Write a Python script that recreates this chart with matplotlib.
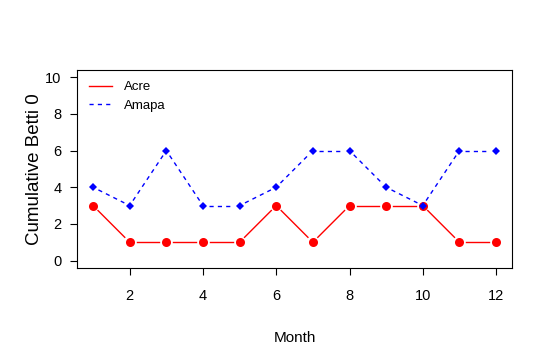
import numpy as np
import matplotlib
matplotlib.use("Agg")
import matplotlib.pyplot as plt

plt.rcParams['font.family'] = ['Liberation Sans', 'DejaVu Sans']

months = list(range(1, 13))
acre = [3, 1, 1, 1, 1, 3, 1, 3, 3, 3, 1, 1]
amapa = [4, 3, 6, 3, 3, 4, 6, 6, 4, 3, 6, 6]

fig = plt.figure(figsize=(5.38, 3.53), dpi=100)
ax = fig.add_axes([0.143, 0.241, 0.809, 0.561])
ax.set_xlim(0.56, 12.44)
ax.set_ylim(-0.4, 10.4)


def gapped(ax, x, y, gap_px, **kw):
    # R type="b": segments stop short of each point
    fig.canvas.draw()
    pts = ax.transData.transform(np.column_stack([x, y]))
    inv = ax.transData.inverted()
    for p0, p1 in zip(pts[:-1], pts[1:]):
        d = p1 - p0
        L = np.hypot(*d)
        if L <= 2 * gap_px:
            continue
        u = d / L
        a = inv.transform(p0 + u * gap_px)
        b = inv.transform(p1 - u * gap_px)
        ax.plot([a[0], b[0]], [a[1], b[1]], **kw)


gapped(ax, months, acre, 7, color='red', lw=1)
gapped(ax, months, amapa, 6, color='blue', lw=1, linestyle=(0, (3, 3)))
ax.plot(months, acre, 'o', color='red', markersize=6.5, markeredgewidth=0)
ax.plot(months, amapa, 'D', color='blue', markersize=4.2, markeredgewidth=0)

ax.plot([], [], color='red', lw=1, label='Acre')
ax.plot([], [], color='blue', lw=1, linestyle=(0, (3, 3)), label='Amapa')
ax.legend(loc='upper left', frameon=False, fontsize=9.5, handlelength=1.8,
          handletextpad=0.9, borderaxespad=0.0, labelspacing=0.45,
          bbox_to_anchor=(0.015, 0.97))

ax.set_xticks([2, 4, 6, 8, 10, 12])
ax.set_yticks([0, 2, 4, 6, 8, 10])
ax.tick_params(direction='out', length=5, labelsize=10.5, pad=6)
ax.tick_params(axis='x', pad=10)
for s in ax.spines.values():
    s.set_linewidth(0.8)
ax.set_xlabel('Month', fontsize=11, labelpad=20)
ax.set_ylabel('Cumulative Betti 0', fontsize=13.5, labelpad=2)

fig.savefig('out.png', dpi=100)
